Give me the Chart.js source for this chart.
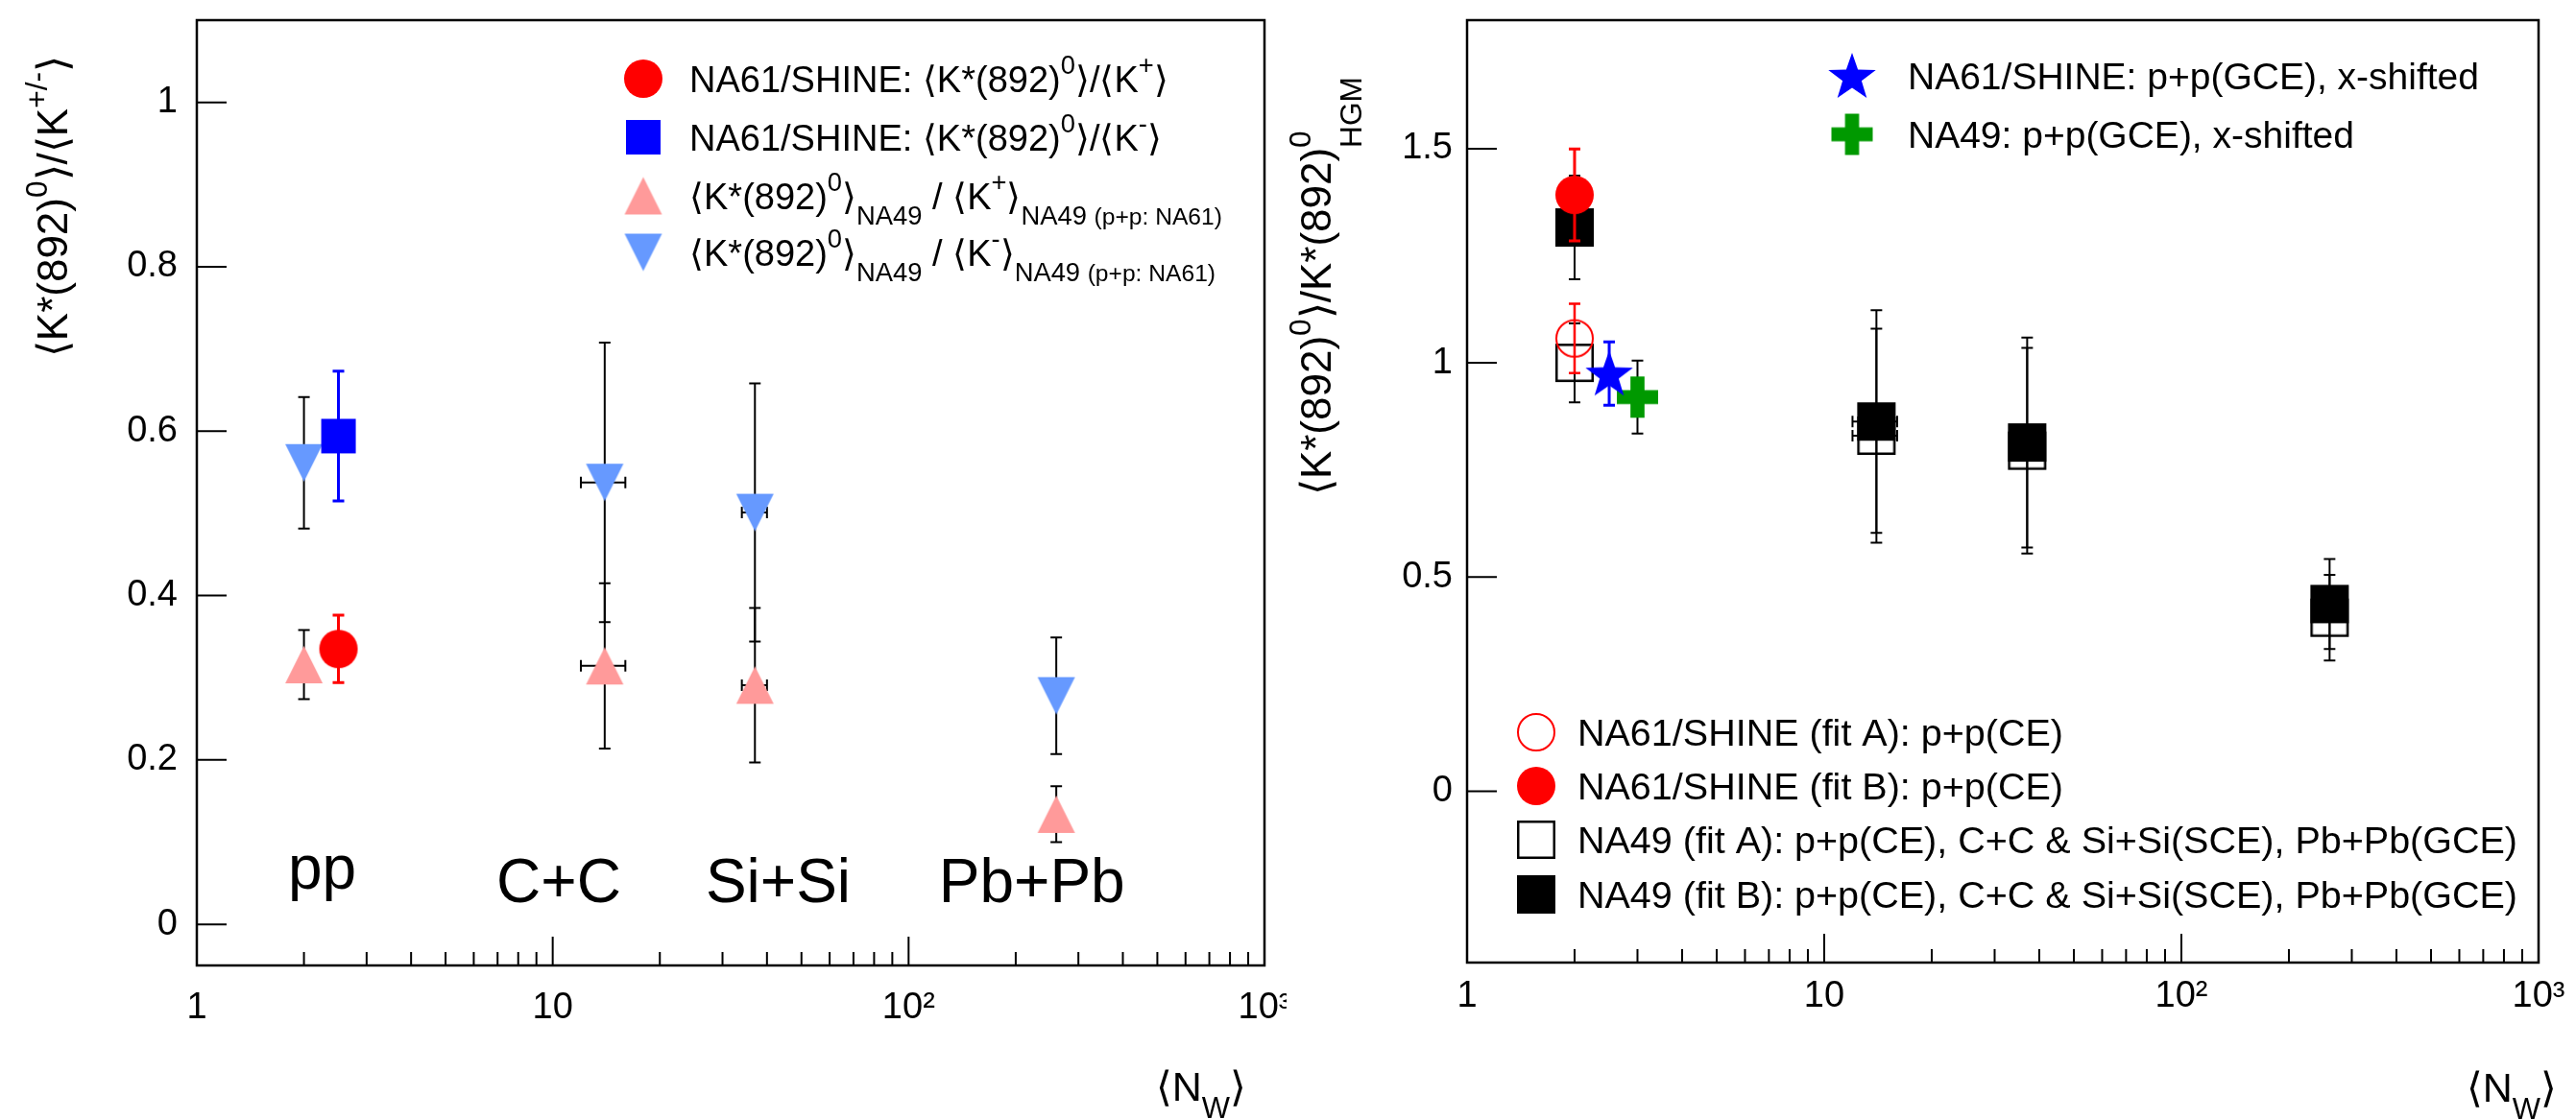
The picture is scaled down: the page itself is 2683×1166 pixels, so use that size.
<!DOCTYPE html>
<html>
<head>
<meta charset="utf-8">
<script src="https://cdn.jsdelivr.net/npm/chart.js@4.4.1/dist/chart.umd.min.js"></script>
<style>
  body { margin: 0; background: #fff; width: 2683px; height: 1166px; overflow: hidden; position: relative; }
  canvas { position: absolute; top: 0; }
  #left { left: 0; }
  #right { left: 1340px; }
</style>
</head>
<body>
<canvas id="left" width="1340" height="1166"></canvas>
<canvas id="right" width="1343" height="1166"></canvas>
<script>
// --- DATA: left panel, <K*(892)0>/<K+-> vs <N_W> ---
const systems = ["pp", "C+C", "Si+Si", "Pb+Pb"];
const nwNA49 = [2, 14, 37, 260];
const nwNA49ErrX = [0, 2, 3, 0];
const kpNA49 = [0.316, 0.3145, 0.291, 0.134];
const kpNA49Err = [0.042, 0.1005, 0.094, 0.034];
const kmNA49 = [0.5615, 0.5376, 0.501, 0.278];
const kmNA49Err = [0.08, 0.17, 0.157, 0.071];
const nwNA61 = [2.5];
const kpNA61 = [0.335];
const kpNA61Err = [0.041];
const kmNA61 = [0.594];
const kmNA61Err = [0.079];

// --- DATA: right panel, <K*(892)0>/K*(892)0_HGM vs <N_W> ---
const nwPP = [2];
const hgmNA61A = [1.057];
const hgmNA61AErr = [0.081];
const hgmNA61B = [1.392];
const hgmNA61BErr = [0.107];
const nwNA49R = [2, 14, 37, 260];
const nwNA49RErrX = [0, 2, 0, 0];
const hgmNA49A = [1.0, 0.83, 0.795, 0.405];
const hgmNA49AErr = [0.092, 0.25, 0.24, 0.1];
const hgmNA49B = [1.316, 0.863, 0.814, 0.437];
const hgmNA49BErr = [0.121, 0.26, 0.245, 0.105];
const nwNA61GCE = [2.5];
const hgmNA61GCE = [0.975];
const hgmNA61GCEErr = [0.074];
const nwNA49GCE = [3];
const hgmNA49GCE = [0.92];
const hgmNA49GCEErr = [0.085];

// --- AXES ---
const xMajorTicks = [1, 10, 100, 1000];
const yTicksLeft = [0, 0.2, 0.4, 0.6, 0.8, 1];
const yTicksRight = [0, 0.5, 1, 1.5];
const xTickLabels = { 1: "1", 10: "10", 100: "10²", 1000: "10³" };

// --- STYLE ---
const FONT = '"Liberation Sans", Arial, sans-serif';
const RED = "#ff0000", BLUE = "#0000ff", PINK = "#ff9a9a", LBLUE = "#6699ff", GREEN = "#009900", BLACK = "#000000";

// --- MARKERS (ROOT-like) ---
function marker(kind, size, color) {
  const c = document.createElement("canvas");
  c.width = c.height = Math.ceil(size + 6);
  const g = c.getContext("2d");
  const m = c.width / 2, r = size / 2;
  g.fillStyle = color;
  g.strokeStyle = color;
  g.beginPath();
  if (kind === "circle") { g.arc(m, m, r, 0, 2 * Math.PI); g.fill(); }
  if (kind === "ocircle") { g.lineWidth = 2; g.arc(m, m, r - 1, 0, 2 * Math.PI); g.stroke(); }
  if (kind === "square") { g.rect(m - r, m - r, size, size); g.fill(); }
  if (kind === "osquare") { g.lineWidth = 2.5; g.rect(m - r + 1.25, m - r + 1.25, size - 2.5, size - 2.5); g.stroke(); }
  if (kind === "tup") { g.moveTo(m, m - r); g.lineTo(m + r, m + r); g.lineTo(m - r, m + r); g.closePath(); g.fill(); }
  if (kind === "tdown") { g.moveTo(m, m + r); g.lineTo(m + r, m - r); g.lineTo(m - r, m - r); g.closePath(); g.fill(); }
  if (kind === "star") {
    for (let i = 0; i < 10; i++) {
      const rr = i % 2 ? r * 0.4 : r;
      const a = -Math.PI / 2 + i * Math.PI / 5;
      const px = m + rr * Math.cos(a), py = m + 2 + rr * Math.sin(a);
      i ? g.lineTo(px, py) : g.moveTo(px, py);
    }
    g.closePath(); g.fill();
  }
  if (kind === "cross") {
    const t = size * 0.34;
    g.rect(m - t / 2, m - r, t, size);
    g.rect(m - r, m - t / 2, size, t);
    g.fill();
  }
  return c;
}

const MK = {
  redCircle: marker("circle", 40, RED),
  redOpen: marker("ocircle", 40, RED),
  blueSquare: marker("square", 36, BLUE),
  pinkUp: marker("tup", 39, PINK),
  lblueDown: marker("tdown", 39, LBLUE),
  blackSquare: marker("square", 40, BLACK),
  openSquare: marker("osquare", 40, BLACK),
  blueStar: marker("star", 52, BLUE),
  greenCross: marker("cross", 43, GREEN)
};

// --- RICH TEXT (sup / sub like TLatex) ---
function layoutRich(ctx, segs, size) {
  let x = 0, stack = null;
  const items = [];
  segs.forEach(sg => {
    const s = typeof sg === "string" ? { t: sg } : sg;
    const fs = s.s ? size * 0.72 * (s.k || 1) : size;
    ctx.font = fs + "px " + FONT;
    const w = ctx.measureText(s.t).width;
    let dy = 0;
    if (s.s === "sup") dy = -(s.dy || 0.48) * size;
    if (s.s === "sub") dy = (s.dy || 0.42) * size;
    const x0 = stack ? stack.x : x;
    items.push({ t: s.t, fs, x: x0, dy });
    if (s.stack) { stack = { x: x0, w }; x = x0 + w; }
    else if (stack) { x = x0 + Math.max(w, stack.w); stack = null; }
    else x = x0 + w;
  });
  return { items, width: x };
}

function drawRich(ctx, segs, x, y, size, align) {
  const lay = layoutRich(ctx, segs, size);
  const x0 = align === "right" ? x - lay.width : align === "center" ? x - lay.width / 2 : x;
  ctx.fillStyle = "#000";
  ctx.textBaseline = "alphabetic";
  ctx.textAlign = "left";
  lay.items.forEach(it => {
    ctx.font = it.fs + "px " + FONT;
    ctx.fillText(it.t, x0 + it.x, y + it.dy);
  });
}

// --- TEXT DECORATION PER PANEL ---
const decor = {
  left: {
    yTitle: { segs: ["⟨K*(892)", { t: "0", s: "sup" }, "⟩/⟨K", { t: "+/-", s: "sup" }, "⟩"], x: 70, y: 58, size: 44 },
    xTitle: { segs: ["⟨N", { t: "W", s: "sub" }, "⟩"], x: 1298, y: 1147, size: 43 },
    legends: [{
      markerX: 670, textX: 718, size: 38,
      entries: [
        { m: MK.redCircle, y: 82, segs: ["NA61/SHINE: ⟨K*(892)", { t: "0", s: "sup" }, "⟩/⟨K", { t: "+", s: "sup" }, "⟩"] },
        { m: MK.blueSquare, y: 143, segs: ["NA61/SHINE: ⟨K*(892)", { t: "0", s: "sup" }, "⟩/⟨K", { t: "-", s: "sup" }, "⟩"] },
        { m: MK.pinkUp, y: 204, segs: ["⟨K*(892)", { t: "0", s: "sup" }, "⟩", { t: "NA49", s: "sub" }, " / ⟨K", { t: "+", s: "sup" }, "⟩", { t: "NA49 ", s: "sub" }, { t: "(p+p: NA61)", s: "sub", k: 0.9 }] },
        { m: MK.lblueDown, y: 263, segs: ["⟨K*(892)", { t: "0", s: "sup" }, "⟩", { t: "NA49", s: "sub" }, " / ⟨K", { t: "-", s: "sup" }, "⟩", { t: "NA49 ", s: "sub" }, { t: "(p+p: NA61)", s: "sub", k: 0.9 }] }
      ]
    }],
    // system names, anchored in data units (N_W, ratio)
    systemAt: [[2.25, 0.043], [10.4, 0.027], [43, 0.027], [222, 0.027]],
    systemSize: 64
  },
  right: {
    yTitle: { segs: ["⟨K*(892)", { t: "0", s: "sup" }, "⟩/K*(892)", { t: "0", s: "sup", stack: true }, { t: "HGM", s: "sub", dy: 0.72 }], x: 46, y: 80, size: 44 },
    xTitle: { segs: ["⟨N", { t: "W", s: "sub" }, "⟩"], x: 1323, y: 1148, size: 43 },
    legends: [{
      markerX: 589, textX: 647, size: 39,
      entries: [
        { m: MK.blueStar, y: 79, segs: ["NA61/SHINE: p+p(GCE), x-shifted"] },
        { m: MK.greenCross, y: 140, segs: ["NA49: p+p(GCE), x-shifted"] }
      ]
    }, {
      markerX: 260, textX: 303, size: 39.5,
      entries: [
        { m: MK.redOpen, y: 763, segs: ["NA61/SHINE (fit A): p+p(CE)"] },
        { m: MK.redCircle, y: 819, segs: ["NA61/SHINE (fit B): p+p(CE)"] },
        { m: MK.openSquare, y: 875, segs: ["NA49 (fit A): p+p(CE), C+C & Si+Si(SCE), Pb+Pb(GCE)"] },
        { m: MK.blackSquare, y: 932, segs: ["NA49 (fit B): p+p(CE), C+C & Si+Si(SCE), Pb+Pb(GCE)"] }
      ]
    }]
  }
};

// --- PLUGINS ---
const errorBars = {
  id: "errorBars",
  beforeDatasetDraw(chart, args) {
    const ds = chart.data.datasets[args.index];
    if (!ds.errY) return;
    const { ctx, scales: { x, y } } = chart;
    const cap = 6;
    ctx.save();
    ctx.strokeStyle = ds.errColor;
    ctx.lineWidth = ds.errWidth;
    ctx.beginPath();
    ds.data.forEach((p, i) => {
      const px = x.getPixelForValue(p.x), py = y.getPixelForValue(p.y);
      const e = ds.errY[i];
      if (e) {
        const y1 = y.getPixelForValue(p.y + e), y2 = y.getPixelForValue(p.y - e);
        ctx.moveTo(px, y1); ctx.lineTo(px, y2);
        ctx.moveTo(px - cap, y1); ctx.lineTo(px + cap, y1);
        ctx.moveTo(px - cap, y2); ctx.lineTo(px + cap, y2);
      }
      const ex = ds.errX ? ds.errX[i] : 0;
      if (ex) {
        const x1 = x.getPixelForValue(p.x - ex), x2 = x.getPixelForValue(p.x + ex);
        ctx.moveTo(x1, py); ctx.lineTo(x2, py);
        ctx.moveTo(x1, py - cap); ctx.lineTo(x1, py + cap);
        ctx.moveTo(x2, py - cap); ctx.lineTo(x2, py + cap);
      }
    });
    ctx.stroke();
    ctx.restore();
  }
};

const rootFrame = {
  id: "rootFrame",
  afterDraw(chart) {
    const { ctx, chartArea: a, scales: { x, y } } = chart;
    ctx.save();
    ctx.strokeStyle = "#000";
    ctx.lineWidth = 2;
    ctx.beginPath();
    x.ticks.forEach(t => {
      const px = x.getPixelForValue(t.value);
      const len = xMajorTicks.includes(t.value) ? 30 : 14;
      ctx.moveTo(px, a.bottom); ctx.lineTo(px, a.bottom - len);
    });
    y.ticks.forEach(t => {
      const py = y.getPixelForValue(t.value);
      ctx.moveTo(a.left, py); ctx.lineTo(a.left + 31, py);
    });
    ctx.stroke();
    ctx.lineWidth = 2.5;
    ctx.strokeRect(a.left, a.top, a.right - a.left, a.bottom - a.top);
    ctx.restore();
  }
};

const texts = {
  id: "texts",
  afterDraw(chart) {
    const d = decor[chart.canvas.id];
    const { ctx, scales: { x, y } } = chart;
    ctx.save();
    // y title, rotated
    ctx.save();
    ctx.translate(d.yTitle.x, d.yTitle.y);
    ctx.rotate(-Math.PI / 2);
    drawRich(ctx, d.yTitle.segs, 0, 0, d.yTitle.size, "right");
    ctx.restore();
    // x title
    drawRich(ctx, d.xTitle.segs, d.xTitle.x, d.xTitle.y, d.xTitle.size, "right");
    // legends
    d.legends.forEach(L => {
      L.entries.forEach(e => {
        ctx.drawImage(e.m, L.markerX - e.m.width / 2, e.y - e.m.height / 2);
        drawRich(ctx, e.segs, L.textX, e.y + L.size * 0.36, L.size, "left");
      });
    });
    // collision system names
    if (d.systemAt) {
      systems.forEach((s, i) => {
        const [nx, ny] = d.systemAt[i];
        drawRich(ctx, [s], x.getPixelForValue(nx), y.getPixelForValue(ny), d.systemSize, "center");
      });
    }
    ctx.restore();
  }
};

// --- CHART FACTORY ---
function logTicks() {
  const out = [];
  for (let e = 0; e < 3; e++) for (let m = 1; m < 10; m++) out.push(m * Math.pow(10, e));
  out.push(1000);
  return out;
}

function makeChart(id, datasets, yMin, yMax, yTicks, frame) {
  new Chart(document.getElementById(id), {
    type: "scatter",
    data: { datasets },
    options: {
      responsive: false,
      animation: false,
      events: [],
      layout: { padding: { top: frame.top, right: frame.right, left: 0, bottom: 0 } },
      plugins: { legend: { display: false }, tooltip: { enabled: false } },
      scales: {
        x: {
          type: "logarithmic",
          min: 1, max: 1000,
          grid: { display: false, drawTicks: false },
          border: { display: false },
          afterFit: s => { s.height = frame.xHeight; s.paddingLeft = 0; s.paddingRight = 0; },
          afterBuildTicks: s => { s.ticks = logTicks().map(v => ({ value: v })); },
          ticks: {
            autoSkip: false, maxRotation: 0, padding: frame.xPad,
            color: "#000", font: { family: FONT, size: 38 },
            callback: v => xTickLabels[v] || ""
          }
        },
        y: {
          type: "linear",
          min: yMin, max: yMax, bounds: "data",
          grid: { display: false, drawTicks: false },
          border: { display: false },
          afterFit: s => { s.width = frame.yWidth; s.paddingTop = 0; s.paddingBottom = 0; },
          afterBuildTicks: s => { s.ticks = yTicks.map(v => ({ value: v })); },
          ticks: {
            padding: frame.yPad,
            color: "#000", font: { family: FONT, size: 38 },
            callback: v => String(v)
          }
        }
      }
    },
    plugins: [errorBars, rootFrame, texts]
  });
}

const pts = (xs, ys) => ys.map((v, i) => ({ x: xs[i], y: v }));
const point = m => ({ pointStyle: m, pointRadius: 20, pointHoverRadius: 20 });

// Left panel (first dataset is drawn on top)
makeChart("left", [
  { label: "NA61/SHINE K*0/K+", data: pts(nwNA61, kpNA61), errY: kpNA61Err, errColor: RED, errWidth: 3, ...point(MK.redCircle) },
  { label: "NA61/SHINE K*0/K-", data: pts(nwNA61, kmNA61), errY: kmNA61Err, errColor: BLUE, errWidth: 3, ...point(MK.blueSquare) },
  { label: "NA49 K*0/K+", data: pts(nwNA49, kpNA49), errY: kpNA49Err, errX: nwNA49ErrX, errColor: BLACK, errWidth: 2, ...point(MK.pinkUp) },
  { label: "NA49 K*0/K-", data: pts(nwNA49, kmNA49), errY: kmNA49Err, errX: nwNA49ErrX, errColor: BLACK, errWidth: 2, ...point(MK.lblueDown) }
], -0.05, 1.1, yTicksLeft, { top: 10, right: 23, xHeight: 160, yWidth: 205, xPad: 22, yPad: 20 });

// Right panel
makeChart("right", [
  { label: "NA61/SHINE p+p(GCE)", data: pts(nwNA61GCE, hgmNA61GCE), errY: hgmNA61GCEErr, errColor: BLUE, errWidth: 3, ...point(MK.blueStar) },
  { label: "NA49 p+p(GCE)", data: pts(nwNA49GCE, hgmNA49GCE), errY: hgmNA49GCEErr, errColor: BLACK, errWidth: 2, ...point(MK.greenCross) },
  { label: "NA61/SHINE fit B", data: pts(nwPP, hgmNA61B), errY: hgmNA61BErr, errColor: RED, errWidth: 3, ...point(MK.redCircle) },
  { label: "NA61/SHINE fit A", data: pts(nwPP, hgmNA61A), errY: hgmNA61AErr, errColor: RED, errWidth: 2.5, ...point(MK.redOpen) },
  { label: "NA49 fit B", data: pts(nwNA49R, hgmNA49B), errY: hgmNA49BErr, errX: nwNA49RErrX, errColor: BLACK, errWidth: 2, ...point(MK.blackSquare) },
  { label: "NA49 fit A", data: pts(nwNA49R, hgmNA49A), errY: hgmNA49AErr, errX: nwNA49RErrX, errColor: BLACK, errWidth: 2, ...point(MK.openSquare) }
], -0.4, 1.8, yTicksRight, { top: 9, right: 39, xHeight: 163, yWidth: 188, xPad: 13, yPad: 15 });
</script>
</body>
</html>
